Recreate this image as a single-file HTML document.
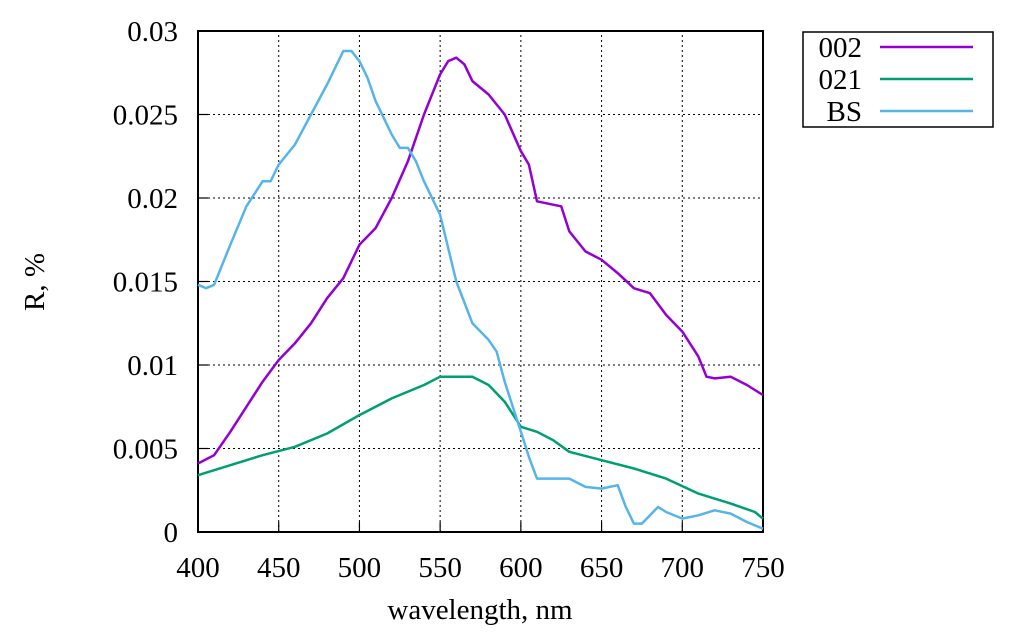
<!DOCTYPE html>
<html><head><meta charset="utf-8"><style>
body{margin:0;background:#fff;width:1016px;height:639px;overflow:hidden}
svg text{font-family:"Liberation Serif",serif;font-size:29px;fill:#000}
</style></head><body>
<svg id="chart" width="1016" height="639">
<g id="grid"></g>
<g id="axes"></g>
<g id="series"></g>
<text x="44" y="282" text-anchor="middle" transform="rotate(-90 44 282)">R, %</text>
<text x="480" y="619" text-anchor="middle">wavelength, nm</text>
<g>
<rect x="803" y="32" width="190" height="95" fill="#fff" stroke="#000" stroke-width="1.5"/>
<text x="862" y="57" text-anchor="end">002</text>
<line x1="880" y1="47" x2="973" y2="47" stroke="#9400d3" stroke-width="2.5"/>
<text x="862" y="89" text-anchor="end">021</text>
<line x1="880" y1="79" x2="973" y2="79" stroke="#009e73" stroke-width="2.5"/>
<text x="862" y="121" text-anchor="end">BS</text>
<line x1="880" y1="111" x2="973" y2="111" stroke="#56b4e9" stroke-width="2.5"/>
</g>
</svg>
<script>
const xTicks=[400,450,500,550,600,650,700,750];
const yTicks=[0,0.005,0.01,0.015,0.02,0.025,0.03];
const yTickLabels=["0","0.005","0.01","0.015","0.02","0.025","0.03"];
const wl002=[400,410,420,430,440,450,460,470,480,490,500,510,520,530,540,550,555,560,565,570,580,590,600,605,610,620,625,630,640,650,660,670,680,690,700,710,715,720,730,740,750];
const r002=[0.0041,0.0046,0.0060,0.0075,0.0090,0.0103,0.0113,0.0125,0.0140,0.0152,0.0172,0.0182,0.0200,0.0222,0.0250,0.0274,0.0282,0.0284,0.0280,0.0270,0.0262,0.0250,0.0228,0.0220,0.0198,0.0196,0.0195,0.0180,0.0168,0.0163,0.0155,0.0146,0.0143,0.0130,0.0120,0.0105,0.0093,0.0092,0.0093,0.0088,0.0082];
const wl021=[400,420,440,460,480,500,520,540,550,560,570,580,590,600,610,620,630,650,670,690,710,730,745,750];
const r021=[0.0034,0.0040,0.0046,0.0051,0.0059,0.0070,0.0080,0.0088,0.0093,0.0093,0.0093,0.0088,0.0078,0.0063,0.0060,0.0055,0.0048,0.0043,0.0038,0.0032,0.0023,0.0017,0.0012,0.0008];
const wlBS=[400,405,410,415,420,430,440,445,450,460,470,480,490,495,500,505,510,520,525,530,535,540,550,555,560,570,580,585,590,595,600,605,610,620,630,640,650,660,665,670,675,680,685,690,700,710,720,730,740,750];
const rBS=[0.0148,0.0146,0.0148,0.0160,0.0172,0.0195,0.0210,0.0210,0.0220,0.0232,0.0250,0.0268,0.0288,0.0288,0.0282,0.0272,0.0258,0.0238,0.0230,0.0230,0.0222,0.0210,0.0190,0.0170,0.0150,0.0125,0.0115,0.0108,0.0090,0.0075,0.0060,0.0045,0.0032,0.0032,0.0032,0.0027,0.0026,0.0028,0.0015,0.0005,0.0005,0.0010,0.0015,0.0012,0.0008,0.0010,0.0013,0.0011,0.0006,0.0002];
const X0=198,X1=763,Y0=532,Y1=31;
function sx(v){return X0+(v-400)/(750-400)*(X1-X0);}
function sy(v){return Y0-(v/0.03)*(Y0-Y1);}
const NS="http://www.w3.org/2000/svg";
function mk(tag,attrs,parent){const e=document.createElementNS(NS,tag);for(const k in attrs)e.setAttribute(k,attrs[k]);parent.appendChild(e);return e;}
const grid=document.getElementById('grid'),axes=document.getElementById('axes'),ser=document.getElementById('series');
xTicks.forEach(t=>{
  const x=sx(t);
  if(t>400&&t<750){const g=mk('line',{x1:x,y1:Y0,x2:x,y2:Y1,stroke:'#000','stroke-width':1,'stroke-dasharray':'2,3'},grid);
  
  }
  const tk=mk('line',{x1:x,y1:Y0,x2:x,y2:Y0-10,stroke:'#000','stroke-width':1.2},axes);
  
  
  const lb=mk('text',{x:x,y:Y0+45,'text-anchor':'middle'},axes);lb.textContent=t;
  
  
});
yTicks.forEach((t,i)=>{
  const y=sy(t);
  if(t>0&&t<0.03){const g=mk('line',{x1:X0,y1:y,x2:X1,y2:y,stroke:'#000','stroke-width':1,'stroke-dasharray':'2,3'},grid);
  
  }
  const tk=mk('line',{x1:X0,y1:y,x2:X0+10,y2:y,stroke:'#000','stroke-width':1.2},axes);
  
  
  const lb=mk('text',{x:X0-20,y:y+10,'text-anchor':'end'},axes);lb.textContent=yTickLabels[i];
  
  
});
const frame=mk('rect',{x:X0,y:Y1,width:X1-X0,height:Y0-Y1,fill:'none',stroke:'#000','stroke-width':2},axes);


function line(xs,ys,color,name){
  const d=xs.map((v,i)=>(i?'L':'M')+sx(v).toFixed(1)+','+sy(ys[i]).toFixed(1)).join('');
  const p=mk('path',{d:d,fill:'none',stroke:color,'stroke-width':2.5,'stroke-linejoin':'round'},ser);
  
  
}
line(wl002,r002,'#9400d3','series-002');
line(wl021,r021,'#009e73','series-021');
line(wlBS,rBS,'#56b4e9','series-bs');
</script>
</body></html>
